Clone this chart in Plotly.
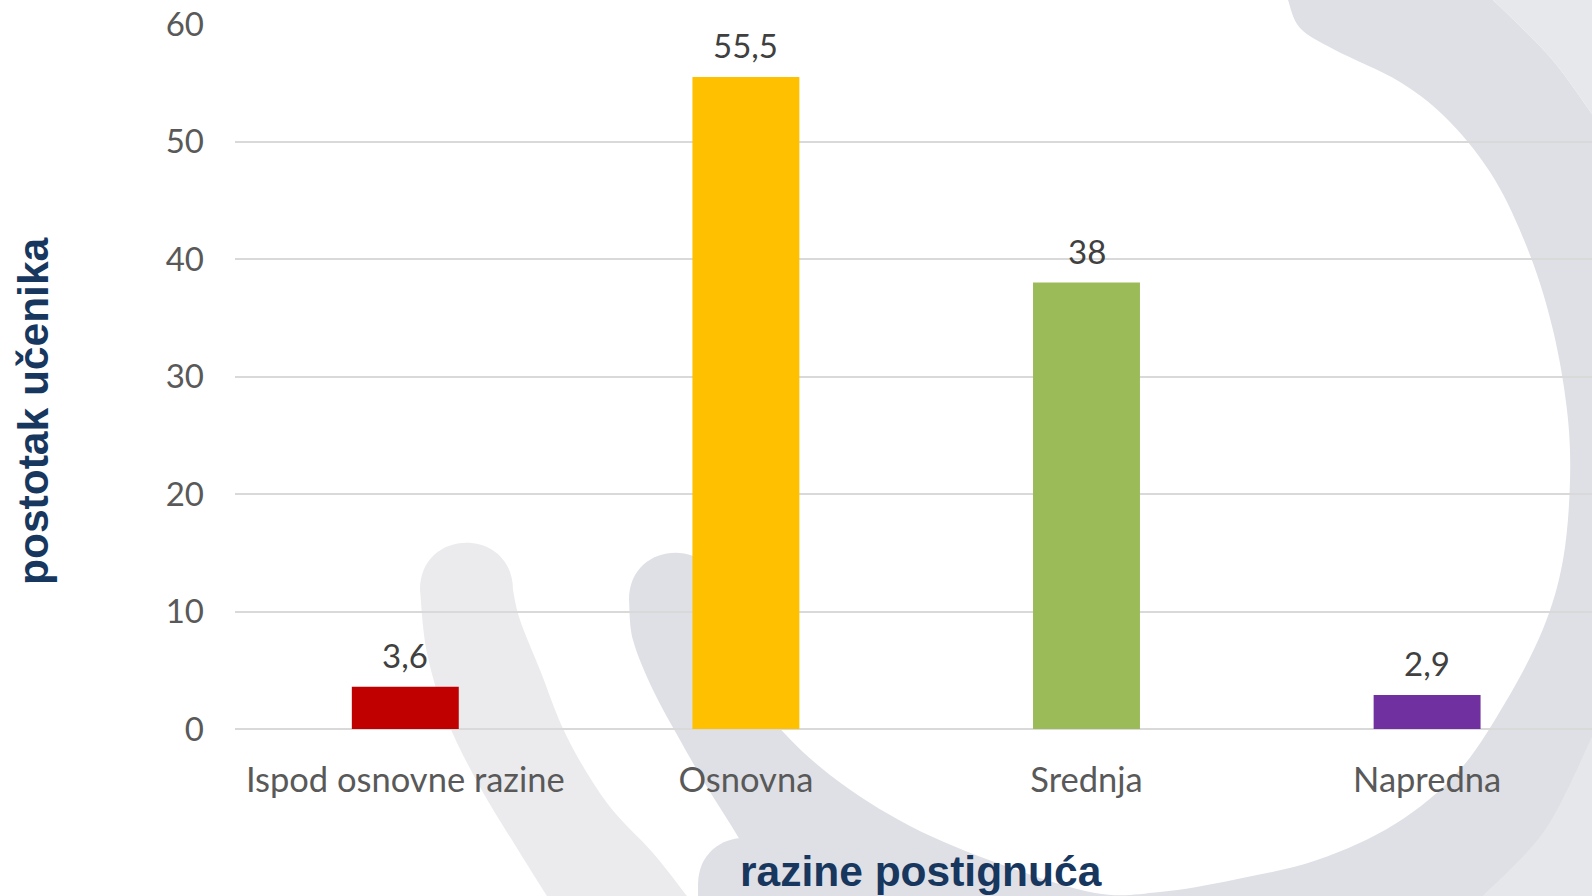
import plotly.graph_objects as go

# ---------------- data ----------------
categories = ["Ispod osnovne razine", "Osnovna", "Srednja", "Napredna"]
values = [3.6, 55.5, 38, 2.9]
bar_colors = ["#C00000", "#FFC000", "#9BBB59", "#7030A0"]
y_ticks = [0, 10, 20, 30, 40, 50, 60]
x_title = "razine postignuća"
y_title = "postotak učenika"

# ---------------- layout geometry ----------------
W, H = 1592, 896
L, R, T, B = 235, 0, 24, 167
PW = W - L - R
PH = H - T - B


def to_paper(p):
    x, y = p
    return ((x - L) / PW, (H - B - y) / PH)


def fmt(p):
    x, y = to_paper(p)
    return f"{x:.5f},{y:.5f}"


def smooth(pts):
    """Catmull-Rom through pts (path assumed to be at pts[0])."""
    s = ""
    n = len(pts)
    for i in range(n - 1):
        p0 = pts[i - 1] if i > 0 else pts[i]
        p1 = pts[i]
        p2 = pts[i + 1]
        p3 = pts[i + 2] if i + 2 < n else p2
        c1 = (p1[0] + (p2[0] - p0[0]) / 6, p1[1] + (p2[1] - p0[1]) / 6)
        c2 = (p2[0] - (p3[0] - p1[0]) / 6, p2[1] - (p3[1] - p1[1]) / 6)
        s += f" C {fmt(c1)} {fmt(c2)} {fmt(p2)}"
    return s


# decorative background swooshes (pixel outlines)
light_left = [(420, 590), (427, 653), (447, 720), (480, 787), (520, 853), (547, 896)]
light_right = [(687, 896), (653, 853), (607, 803), (567, 737), (540, 670), (520, 620), (513, 590)]
path_light = (
    f"M {fmt(light_left[0])}" + smooth(light_left)
    + f" L {fmt(light_right[0])}" + smooth(light_right)
    + f" C {fmt((513, 527))} {fmt((420, 527))} {fmt((420, 590))} Z"
)

arm_left = [(629, 600), (633, 640), (653, 690), (680, 740), (707, 787), (740, 840), (770, 896)]
outer_top = [(1592, 114), (1550, 57), (1493, 0)]
inner = [(1288, 0), (1300, 28), (1335, 50), (1400, 82), (1450, 122), (1495, 180),
         (1530, 255), (1553, 330), (1567, 410), (1570, 480), (1563, 560),
         (1543, 629), (1505, 703), (1458, 772), (1395, 824), (1317, 860),
         (1233, 880), (1160, 892), (1095, 893), (1000, 864), (910, 826),
         (830, 775), (770, 717), (735, 660), (722, 600)]
path_ring = (
    f"M {fmt(arm_left[0])}" + smooth(arm_left)
    + f" L {fmt((1592, 896))} L {fmt(outer_top[0])}" + smooth(outer_top)
    + f" L {fmt(inner[0])}" + smooth(inner)
    + f" C {fmt((722, 537))} {fmt((629, 537))} {fmt((629, 600))} Z"
)

top_right = [(1493, 0), (1550, 57), (1592, 114)]
path_top_right = f"M {fmt(top_right[0])}" + smooth(top_right) + f" L {fmt((1592, 0))} Z"

bot_right = [(1592, 737), (1545, 830), (1483, 896)]
path_bot_right = f"M {fmt(bot_right[0])}" + smooth(bot_right) + f" L {fmt((1592, 896))} Z"

path_blob = (
    f"M {fmt((698, 896))} L {fmt((698, 885))} C {fmt((698, 822))} {fmt((792, 822))} {fmt((792, 885))}"
    f" L {fmt((792, 896))} Z"
)

shapes = []
for pth, col in [(path_light, "#EBEBEE"), (path_ring, "#DFE0E5"),
                 (path_top_right, "#E7E8EC"), (path_bot_right, "#E6E7EB"),
                 (path_blob, "#DFE0E5")]:
    shapes.append(dict(type="path", path=pth, xref="paper", yref="paper",
                       fillcolor=col, line=dict(width=0), layer="below"))

# ---------------- figure ----------------
fig = go.Figure()
fig.add_trace(go.Bar(
    x=categories, y=values, marker=dict(color=bar_colors, line=dict(width=0)),
    hoverinfo="x+y", showlegend=False,
))

annotations = []
for c, v in zip(categories, values):
    annotations.append(dict(
        x=c, y=v, xref="x", yref="y", text=f"{v:g}".replace(".", ","),
        showarrow=False, yanchor="bottom", yshift=10,
        font=dict(family="Lato", size=33, color="#404040"),
    ))

xt = to_paper((921, 871))
yt = to_paper((33, 411))
annotations.append(dict(
    x=xt[0], y=xt[1], xref="paper", yref="paper", text=f"<b>{x_title}</b>",
    showarrow=False, xanchor="center", yanchor="middle",
    font=dict(family="Liberation Sans", size=42.5, color="#17375E"),
))
annotations.append(dict(
    x=yt[0], y=yt[1], xref="paper", yref="paper", text=f"<b>{y_title}</b>",
    showarrow=False, xanchor="center", yanchor="middle", textangle=-90,
    font=dict(family="Liberation Sans", size=42.5, color="#17375E"),
))

fig.update_layout(
    width=W, height=H,
    margin=dict(l=L, r=R, t=T, b=B, pad=0),
    paper_bgcolor="white",
    plot_bgcolor="rgba(0,0,0,0)",
    bargap=0.686,
    shapes=shapes,
    annotations=annotations,
    font=dict(family="Lato", color="#595959"),
)
fig.update_xaxes(
    type="category", range=[-0.5, -0.5 + PW / 340.6],
    showgrid=False, showline=False, zeroline=False, ticks="",
    tickfont=dict(family="Lato", size=34.5, color="#595959"),
    ticklabelstandoff=27,
)
fig.update_yaxes(
    range=[0, 60], tickvals=y_ticks, ticktext=[str(t) for t in y_ticks],
    showgrid=True, gridcolor="#D9D9D9", gridwidth=2,
    zeroline=True, zerolinecolor="#D9D9D9", zerolinewidth=2,
    showline=False, ticks="",
    tickfont=dict(family="Lato", size=33, color="#595959"),
    ticklabelstandoff=30,
)

fig.write_html(
    "out.html",
    config={"displayModeBar": False},
    post_script="document.body.style.margin='0';document.body.style.overflow='hidden';",
)
